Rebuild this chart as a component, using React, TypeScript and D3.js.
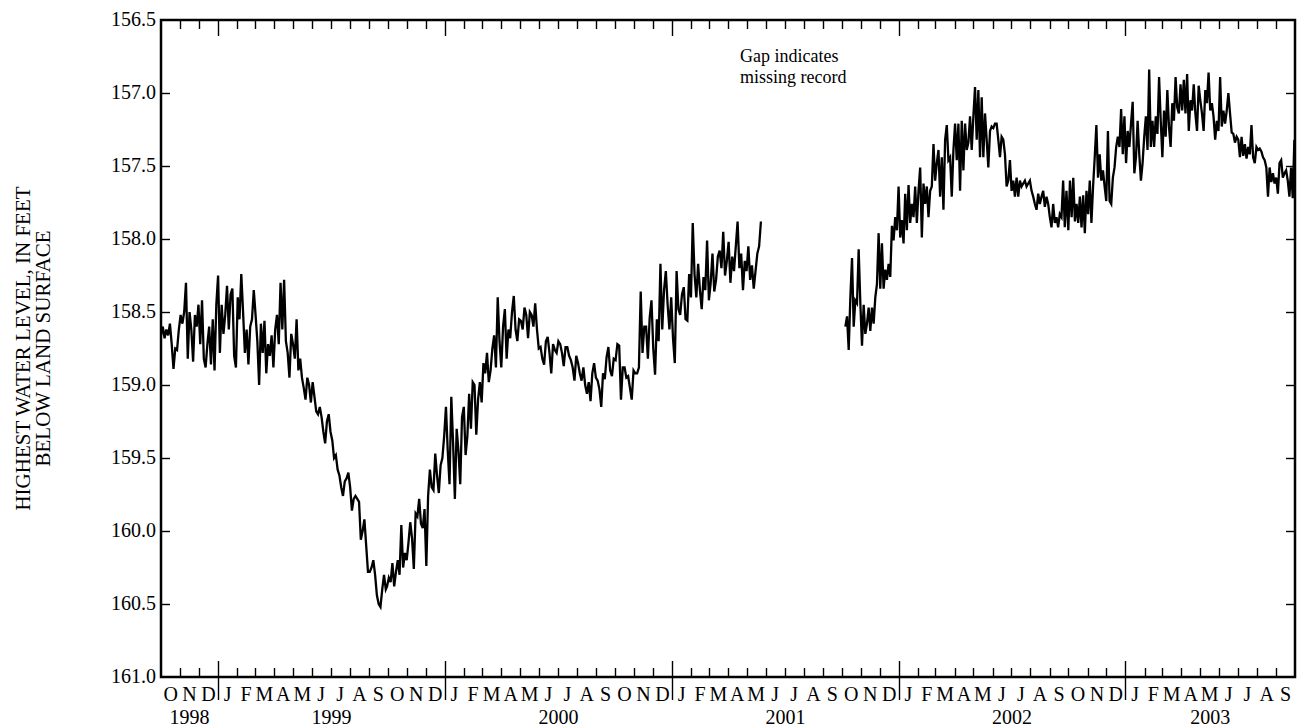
import * as React from "react"
import * as d3 from "d3"

// readings are evenly spaced between each chunk's start and end date
const wy1999Start = "1998-10-01"
const wy1999End = "1999-09-28"
const wy1999 = [
  158.66, 158.6, 158.68, 158.62, 158.66, 158.58, 158.72, 158.89, 158.75, 158.76,
  158.62, 158.52, 158.58, 158.5, 158.3, 158.82, 158.5, 158.62, 158.84, 158.52,
  158.6, 158.45, 158.72, 158.42, 158.82, 158.88, 158.72, 158.6, 158.86, 158.55,
  158.9, 158.45, 158.25, 158.78, 158.45, 158.65, 158.52, 158.32, 158.62, 158.38,
  158.34, 158.8, 158.88, 158.4, 158.55, 158.24, 158.5, 158.78, 158.62, 158.86,
  158.6, 158.55, 158.35, 158.52, 158.7, 159.0, 158.58, 158.78, 158.56, 158.92,
  158.72, 158.8, 158.66, 158.88, 158.62, 158.52, 158.72, 158.3, 158.62, 158.28,
  158.7, 158.78, 158.95, 158.65, 158.72, 158.82, 158.55, 158.9, 158.82, 158.95,
  159.02, 159.1, 158.95, 159.0, 159.12, 158.98, 159.08, 159.18, 159.2, 159.15,
  159.22, 159.32, 159.4, 159.25, 159.2, 159.32, 159.38, 159.5, 159.48, 159.58,
  159.62, 159.7, 159.76, 159.66, 159.64, 159.6, 159.7, 159.86, 159.78, 159.76,
  159.78, 159.8, 160.06, 160.0, 159.92, 160.1, 160.28, 160.28, 160.25, 160.2,
  160.3, 160.44, 160.5, 160.52, 160.4, 160.3, 160.4,
]

const wy2000Start = "1999-09-30"
const wy2000End = "2000-09-29"
const wy2000 = [
  160.38, 160.32, 160.35, 160.22, 160.38, 160.28, 160.2, 160.3, 159.96, 160.25,
  160.15, 160.2, 160.08, 159.94, 160.05, 160.26, 159.88, 159.9, 159.78, 159.95,
  159.98, 159.85, 160.24, 159.76, 159.58, 159.7, 159.72, 159.47, 159.62, 159.74,
  159.55, 159.5, 159.35, 159.15, 159.45, 159.68, 159.08, 159.4, 159.78, 159.3,
  159.45, 159.68, 159.22, 159.15, 159.48, 159.35, 159.06, 159.3, 158.98, 159.0,
  159.34, 159.1, 158.98, 159.12, 158.85, 158.92, 158.78, 158.98, 158.9, 158.75,
  158.66, 158.88, 158.4, 158.7, 158.88, 158.6, 158.48, 158.82, 158.62, 158.68,
  158.5, 158.39, 158.62, 158.7, 158.55, 158.56, 158.62, 158.47, 158.52, 158.68,
  158.5, 158.52, 158.6, 158.44, 158.62, 158.75, 158.74, 158.82, 158.86, 158.7,
  158.67, 158.78, 158.92, 158.72, 158.76, 158.78, 158.7, 158.72, 158.78, 158.87,
  158.74, 158.74, 158.8, 158.83, 158.88, 158.97, 158.8, 158.85, 158.92, 158.97,
  158.88, 159.0, 159.06, 158.98, 159.11, 158.92, 158.85, 158.95, 158.97, 159.03,
  159.15, 158.92, 158.96, 158.81, 158.74, 158.9, 158.94, 158.82,
]

const wy2001Start = "2000-10-02"
const wy2001End = "2001-05-24"
const wy2001 = [
  158.83, 158.72, 158.73, 159.1, 158.88, 158.88, 158.95, 158.94, 159.02, 159.1,
  158.9, 158.92, 158.92, 158.88, 158.36, 158.78, 158.6, 158.6, 158.82, 158.54,
  158.42, 158.75, 158.93, 158.55, 158.7, 158.17, 158.62, 158.35, 158.22, 158.45,
  158.62, 158.4, 158.68, 158.85, 158.22, 158.48, 158.52, 158.38, 158.33, 158.55,
  158.56, 158.24, 158.4, 157.89, 158.24, 158.4, 158.17, 158.35, 158.48, 158.26,
  158.35, 158.01, 158.42, 158.3, 158.1, 158.36, 158.28, 158.12, 158.08, 158.2,
  157.95, 158.25, 158.15, 158.02, 158.3, 158.12, 158.22, 158.05, 157.88, 158.2,
  158.1, 158.35, 158.15, 158.22, 158.05, 158.28, 158.18, 158.34, 158.22, 158.1,
  158.05, 157.88,
]

// record resumes after the gap
const wy2002Start = "2001-10-07"
const wy2002End = "2002-09-28"
const wy2002 = [
  158.6, 158.53, 158.76, 158.4, 158.13, 158.6, 158.42, 158.44, 158.07, 158.44,
  158.73, 158.45, 158.65, 158.58, 158.47, 158.63, 158.47, 158.58, 158.4, 158.31,
  157.96, 158.34, 158.03, 158.34, 158.21, 158.28, 158.17, 158.26, 157.91, 158.01,
  157.85, 157.94, 157.64, 157.99, 157.87, 158.03, 157.69, 157.94, 157.63, 157.89,
  157.76, 157.85, 157.64, 157.89, 157.67, 157.51, 157.99, 157.62, 157.76, 157.64,
  157.85, 157.67, 157.64, 157.35, 157.6, 157.48, 157.39, 157.71, 157.44, 157.8,
  157.32, 157.22, 157.46, 157.44, 157.71, 157.39, 157.21, 157.46, 157.21, 157.67,
  157.19, 157.53, 157.21, 157.39, 157.34, 157.16, 157.39, 157.16, 156.96, 157.32,
  156.98, 157.44, 157.03, 157.44, 157.14, 157.32, 157.51, 157.26, 157.23, 157.24,
  157.21, 157.21, 157.32, 157.44, 157.3, 157.32, 157.42, 157.64, 157.6, 157.46,
  157.67, 157.6, 157.71, 157.58, 157.71, 157.6, 157.64, 157.62, 157.6, 157.64,
  157.62, 157.6, 157.67, 157.71, 157.76, 157.8, 157.69, 157.76, 157.71, 157.67,
  157.78, 157.71, 157.76, 157.85, 157.92, 157.76, 157.89, 157.85, 157.92, 157.83,
  157.85, 157.6, 157.92, 157.67,
]

const wy2003Start = "2002-10-01"
const wy2003End = "2003-09-30"
const wy2003 = [
  157.94, 157.6, 157.85, 157.58, 157.88, 157.76, 157.89, 157.71, 157.92, 157.7,
  157.96, 157.67, 157.83, 157.6, 157.89, 157.64, 157.44, 157.22, 157.58, 157.42,
  157.6, 157.53, 157.64, 157.74, 157.26, 157.74, 157.76, 157.58, 157.51, 157.37,
  157.3, 157.37, 157.11, 157.42, 157.16, 157.48, 157.26, 157.37, 157.21, 157.06,
  157.55, 157.44, 157.19, 157.42, 157.6, 157.48, 157.3, 157.16, 157.39, 156.84,
  157.37, 157.19, 157.37, 157.16, 157.28, 156.89, 157.19, 157.44, 157.12, 157.3,
  156.98, 157.23, 157.37, 157.07, 157.19, 156.89, 157.1, 157.14, 156.94, 157.12,
  156.91, 157.14, 156.87, 157.26, 157.05, 157.12, 156.94, 157.14, 157.26, 156.95,
  157.05, 157.14, 157.26, 156.98, 157.07, 156.86, 157.12, 157.07, 157.16, 157.32,
  157.19, 157.26, 156.89, 157.23, 157.12, 157.21, 157.12, 157.0, 157.14, 157.27,
  157.28, 157.34, 157.3, 157.32, 157.44, 157.3, 157.43, 157.35, 157.45, 157.37,
  157.42, 157.22, 157.44, 157.48, 157.37, 157.39, 157.38, 157.4, 157.44, 157.46,
  157.51, 157.71, 157.51, 157.61, 157.55, 157.62, 157.58, 157.69, 157.48, 157.46,
  157.58, 157.55, 157.53, 157.6, 157.71, 157.51, 157.72, 157.32,
]

const yTicks = [156.5, 157.0, 157.5, 158.0, 158.5, 159.0, 159.5, 160.0, 160.5, 161.0]
const monthLetters = ["J", "F", "M", "A", "M", "J", "J", "A", "S", "O", "N", "D"]
const years = [1998, 1999, 2000, 2001, 2002, 2003]
const periodStart = "1998-10-01"
const periodEnd = "2003-10-01"

type Point = { date: Date; value: number }

const parse = d3.timeParse("%Y-%m-%d")

function toPoints(start: string, end: string, values: number[]): Point[] {
  const t0 = parse(start)!.getTime()
  const t1 = parse(end)!.getTime()
  const step = (t1 - t0) / (values.length - 1)
  return values.map((v, i) => ({ date: new Date(t0 + i * step), value: v }))
}

const width = 1304
const height = 727
const margin = { top: 20, right: 9, bottom: 50, left: 161 }
const font = "'Liberation Serif', 'Times New Roman', serif"

export default function App() {
  const svgRef = React.useRef<SVGSVGElement>(null)

  React.useEffect(() => {
    if (!svgRef.current) return
    const svg = d3.select(svgRef.current)
    svg.selectAll("*").remove()

    const x0 = margin.left
    const x1 = width - margin.right
    const y0 = margin.top
    const y1 = height - margin.bottom

    const start = parse(periodStart)!
    const end = parse(periodEnd)!

    const x = d3.scaleTime().domain([start, end]).range([x0, x1])
    const y = d3.scaleLinear().domain([156.5, 161.0]).range([y0, y1])

    const segments = [
      [
        ...toPoints(wy1999Start, wy1999End, wy1999),
        ...toPoints(wy2000Start, wy2000End, wy2000),
        ...toPoints(wy2001Start, wy2001End, wy2001),
      ],
      [...toPoints(wy2002Start, wy2002End, wy2002), ...toPoints(wy2003Start, wy2003End, wy2003)],
    ]

    svg.append("rect").attr("width", width).attr("height", height).attr("fill", "#fff")

    svg
      .append("defs")
      .append("clipPath")
      .attr("id", "plot-clip")
      .append("rect")
      .attr("x", x0)
      .attr("y", y0)
      .attr("width", x1 - x0)
      .attr("height", y1 - y0)

    // hydrograph
    const line = d3
      .line<Point>()
      .x((d) => x(d.date))
      .y((d) => y(d.value))

    svg
      .append("g")
      .attr("clip-path", "url(#plot-clip)")
      .selectAll("path")
      .data(segments)
      .enter()
      .append("path")
      .attr("fill", "none")
      .attr("stroke", "#000")
      .attr("stroke-width", 2.3)
      .attr("d", line)

    const ticks = svg.append("g").attr("stroke", "#000").attr("stroke-width", 1.4)

    // month ticks, longer at the turn of the year
    const months = d3.timeMonth.range(d3.timeMonth.offset(start, 1), end)
    months.forEach((m) => {
      const xm = Math.round(x(m)) + 0.5
      const major = m.getMonth() === 0
      ticks.append("line").attr("x1", xm).attr("x2", xm).attr("y1", y0).attr("y2", y0 + (major ? 16 : 9))
      ticks
        .append("line")
        .attr("x1", xm)
        .attr("x2", xm)
        .attr("y1", y1)
        .attr("y2", y1 - (major ? 16 : 9))
      if (major) {
        ticks.append("line").attr("x1", xm).attr("x2", xm).attr("y1", y1).attr("y2", y1 + 23)
      }
    })

    yTicks.slice(1, -1).forEach((v) => {
      const yv = Math.round(y(v)) + 0.5
      ticks.append("line").attr("x1", x0).attr("x2", x0 + 9).attr("y1", yv).attr("y2", yv)
      ticks.append("line").attr("x1", x1).attr("x2", x1 - 9).attr("y1", yv).attr("y2", yv)
    })

    // frame
    svg
      .append("rect")
      .attr("x", x0)
      .attr("y", y0)
      .attr("width", x1 - x0)
      .attr("height", y1 - y0)
      .attr("fill", "none")
      .attr("stroke", "#000")
      .attr("stroke-width", 2.5)

    const labels = svg.append("g").attr("font-family", font).attr("fill", "#000")

    labels
      .selectAll(".ylab")
      .data(yTicks)
      .enter()
      .append("text")
      .attr("x", x0 - 5)
      .attr("y", (d) => y(d))
      .attr("dy", "0.3em")
      .attr("text-anchor", "end")
      .attr("font-size", 20)
      .text((d) => d3.format(".1f")(d))

    d3.timeMonth.range(start, end).forEach((m) => {
      const next = d3.timeMonth.offset(m, 1)
      labels
        .append("text")
        .attr("x", (x(m) + x(next)) / 2)
        .attr("y", y1 + 24)
        .attr("text-anchor", "middle")
        .attr("font-size", 20)
        .text(monthLetters[m.getMonth()])
    })

    years.forEach((yr) => {
      const a = Math.max(+start, +new Date(yr, 0, 1))
      const b = Math.min(+end, +new Date(yr + 1, 0, 1))
      labels
        .append("text")
        .attr("x", (x(new Date(a)) + x(new Date(b))) / 2)
        .attr("y", y1 + 47)
        .attr("text-anchor", "middle")
        .attr("font-size", 20)
        .text(yr)
    })

    const title = labels
      .append("text")
      .attr("transform", `translate(30, ${(y0 + y1) / 2}) rotate(-90)`)
      .attr("text-anchor", "middle")
      .attr("font-size", 21)
    title.append("tspan").attr("x", 0).attr("y", 0).text("HIGHEST WATER LEVEL, IN FEET")
    title.append("tspan").attr("x", 0).attr("y", 20).text("BELOW LAND SURFACE")

    const note = labels.append("g").attr("font-size", 18)
    note.append("text").attr("x", 740).attr("y", 62).text("Gap indicates")
    note.append("text").attr("x", 740).attr("y", 83).text("missing record")

    return () => {
      svg.selectAll("*").remove()
    }
  }, [])

  return (
    <svg
      ref={svgRef}
      width={width}
      height={height}
      viewBox={`0 0 ${width} ${height}`}
      style={{ position: "absolute", left: 0, top: 0, display: "block" }}
    />
  )
}
